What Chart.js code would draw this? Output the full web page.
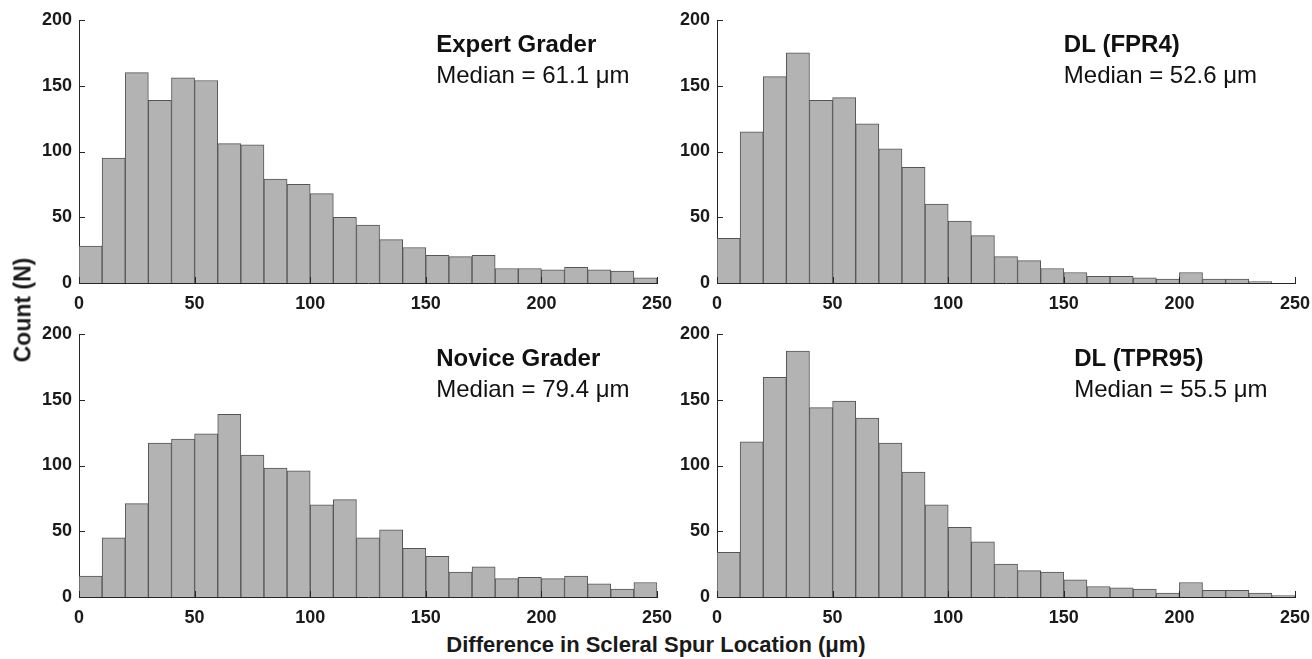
<!DOCTYPE html>
<html>
<head>
<meta charset="utf-8">
<script src="https://cdn.jsdelivr.net/npm/chart.js@4.4.1/dist/chart.umd.min.js"></script>
<style>
	body { margin: 0; background: #fff; overflow: hidden; }
	#wrap { position: relative; width: 1312px; height: 659px; overflow: hidden; font-family: "Liberation Sans", Arial, sans-serif; color: #1a1a1a; }
	#wrap canvas { position: absolute; }
	#xTitle { position: absolute; left: 0; width: 1312px; top: 632px; text-align: center; font-weight: bold; font-size: 22px; }
	#yTitle { position: absolute; left: 23px; top: 310px; transform: translate(-50%, -50%) rotate(-90deg); font-weight: bold; font-size: 23px; white-space: nowrap; }
</style>
</head>
<body>
<div id="wrap">
	<canvas id="c0" width="690" height="315" style="left:0px;top:0px"></canvas>
	<canvas id="c1" width="690" height="315" style="left:638px;top:0px"></canvas>
	<canvas id="c2" width="690" height="315" style="left:0px;top:314px"></canvas>
	<canvas id="c3" width="690" height="315" style="left:638px;top:314px"></canvas>
	<div id="xTitle">Difference in Scleral Spur Location (μm)</div>
	<div id="yTitle">Count (N)</div>
</div>
<script>
// bin centres (bins are 10 µm wide)
var binCenters = [5, 15, 25, 35, 45, 55, 65, 75, 85, 95, 105, 115, 125, 135, 145, 155, 165, 175, 185, 195, 205, 215, 225, 235, 245];

var expertCounts = [28, 95, 160, 139, 156, 154, 106, 105, 79, 75, 68, 50, 44, 33, 27, 21, 20, 21, 11, 11, 10, 12, 10, 9, 4];
var fpr4Counts   = [34, 115, 157, 175, 139, 141, 121, 102, 88, 60, 47, 36, 20, 17, 11, 8, 5, 5, 4, 3, 8, 3, 3, 1, 0];
var noviceCounts = [16, 45, 71, 117, 120, 124, 139, 108, 98, 96, 70, 74, 45, 51, 37, 31, 19, 23, 14, 15, 14, 16, 10, 6, 11];
var tpr95Counts  = [34, 118, 167, 187, 144, 149, 136, 117, 95, 70, 53, 42, 25, 20, 19, 13, 8, 7, 6, 3, 11, 5, 5, 3, 1];

var xTickValues = [0, 50, 100, 150, 200, 250];
var yTickValues = [0, 50, 100, 150, 200];

var panelTitles  = ['Expert Grader', 'DL (FPR4)', 'Novice Grader', 'DL (TPR95)'];
var panelMedians = ['Median = 61.1 μm', 'Median = 52.6 μm', 'Median = 79.4 μm', 'Median = 55.5 μm'];
var panelTextX   = [154.5, 150, 154.5, 154.5];  // in x data units, like matlab text()

var axisColor = '#262626';
var fontFam = '"Liberation Sans", Arial, sans-serif';

Chart.defaults.font.family = fontFam;

// matlab style ticks pointing into the plot + the two text lines
var panelDecor = {
	id: 'panelDecor',
	afterDraw: function(chart, args, opts) {
		var ctx = chart.ctx;
		var a = chart.chartArea;
		var xs = chart.scales.x;
		var ys = chart.scales.y;
		ctx.save();
		ctx.strokeStyle = axisColor;
		ctx.lineWidth = 1;
		ctx.beginPath();
		xs.ticks.forEach(function(t) {
			var p = Math.round(xs.getPixelForValue(t.value)) + 0.5;
			ctx.moveTo(p, a.bottom);
			ctx.lineTo(p, a.bottom - 6);
		});
		ys.ticks.forEach(function(t) {
			var p = Math.round(ys.getPixelForValue(t.value)) + 0.5;
			ctx.moveTo(a.left, p);
			ctx.lineTo(a.left + 6, p);
		});
		ctx.stroke();

		var px = xs.getPixelForValue(opts.x);
		ctx.fillStyle = '#111';
		ctx.textAlign = 'left';
		ctx.textBaseline = 'alphabetic';
		ctx.font = 'bold 24px ' + fontFam;
		ctx.fillText(opts.title, px, ys.getPixelForValue(176));
		ctx.font = '24px ' + fontFam;
		ctx.fillText(opts.median, px, ys.getPixelForValue(152));
		ctx.restore();
	}
};

function makePanel(id, counts, k) {
	var pts = [];
	for (var i = 0; i < binCenters.length; i++) {
		pts.push({x: binCenters[i], y: counts[i]});
	}
	return new Chart(document.getElementById(id), {
		type: 'bar',
		data: {
			datasets: [{
				data: pts,
				backgroundColor: '#b3b3b3',
				borderColor: '#555555',
				borderWidth: 1,
				barPercentage: 1,
				categoryPercentage: 1
			}]
		},
		options: {
			responsive: false,
			animation: false,
			layout: { padding: { top: 20, right: 33, left: 0, bottom: 0 } },
			plugins: {
				legend: { display: false },
				tooltip: { enabled: false },
				panelDecor: { title: panelTitles[k], median: panelMedians[k], x: panelTextX[k] }
			},
			scales: {
				x: {
					type: 'linear',
					min: 0, max: 250,
					offset: false,
					z: 1,
					grid: { display: false, drawTicks: false },
					border: { display: true, color: axisColor, width: 1 },
					afterBuildTicks: function(s) { s.ticks = xTickValues.map(function(v) { return {value: v}; }); },
					afterFit: function(s) { s.height = 32; },
					ticks: { color: '#1a1a1a', padding: 10, maxRotation: 0, font: { size: 18, weight: 'bold' } }
				},
				y: {
					min: 0, max: 200,
					z: 1,
					grid: { display: false, drawTicks: false },
					border: { display: true, color: axisColor, width: 1 },
					afterBuildTicks: function(s) { s.ticks = yTickValues.map(function(v) { return {value: v}; }); },
					afterFit: function(s) { s.width = 79; },
					ticks: { color: '#1a1a1a', padding: 7, font: { size: 18, weight: 'bold' } }
				}
			}
		},
		plugins: [panelDecor]
	});
}

makePanel('c0', expertCounts, 0);
makePanel('c1', fpr4Counts, 1);
makePanel('c2', noviceCounts, 2);
makePanel('c3', tpr95Counts, 3);
</script>
</body>
</html>
